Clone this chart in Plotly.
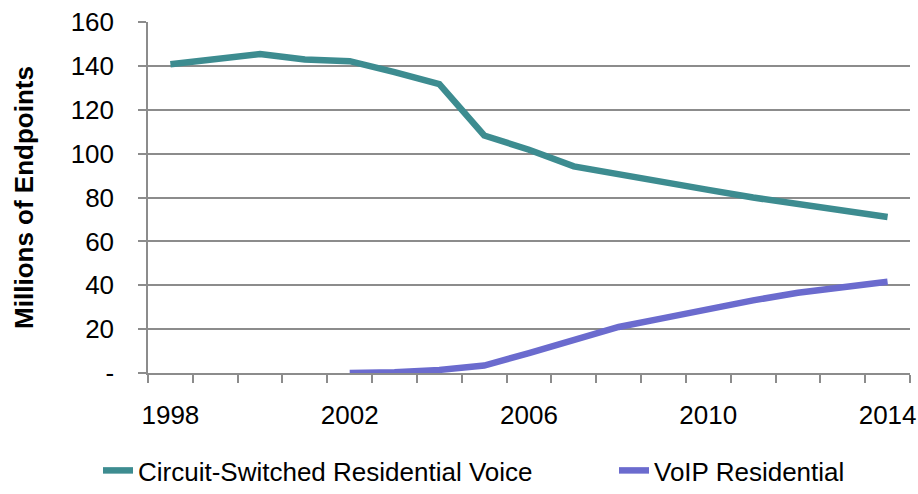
import plotly.graph_objects as go

years = list(range(1998, 2015))
circuit = [140.8, 143.0, 145.4, 143.0, 142.2, 137.2, 131.7, 108.3, 101.8, 94.2,
           90.4, 86.9, 83.5, 80.0, 77.2, 74.1, 71.1]
voip_years = list(range(2002, 2015))
voip = [0.0, 0.3, 1.4, 3.4, 9.1, 15.2, 21.0, 25.0, 29.2, 33.1, 36.6, 38.8, 41.6]
y_ticks = [0, 20, 40, 60, 80, 100, 120, 140, 160]
y_labels = ["-", "20", "40", "60", "80", "100", "120", "140", "160"]
x_label_years = [1998, 2002, 2006, 2010, 2014]

TEAL = "#3D8C90"
PURPLE = "#6B6BCE"
GRID = "#8C8C8C"
FONT = "Liberation Sans, Arial, sans-serif"

W, H = 918, 494

fig = go.Figure()
fig.add_trace(go.Scatter(x=years, y=circuit, mode="lines",
                         name="Circuit-Switched Residential Voice",
                         line=dict(color=TEAL, width=6.5), legend="legend"))
fig.add_trace(go.Scatter(x=voip_years, y=voip, mode="lines",
                         name="VoIP Residential",
                         line=dict(color=PURPLE, width=6.5), legend="legend2"))

boundaries = [y - 0.5 for y in years] + [years[-1] + 0.5]

leg_common = dict(orientation="h", xref="container", yref="container",
                  xanchor="left", yanchor="bottom", y=-5 / H,
                  font=dict(size=26), bgcolor="rgba(0,0,0,0)", itemwidth=30)

fig.update_layout(
    width=W, height=H,
    margin=dict(l=148, r=8, t=22, b=121, autoexpand=False),
    paper_bgcolor="white", plot_bgcolor="white",
    font=dict(family=FONT, size=26, color="black"),
    showlegend=True,
    legend=dict(x=98 / W, **leg_common),
    legend2=dict(x=614 / W, **leg_common),
    xaxis=dict(range=[1997.5, 2014.5], tickvals=x_label_years,
               ticktext=[str(v) for v in x_label_years],
               ticks="", showgrid=False, showline=True, linecolor=GRID, linewidth=1.5,
               ticklabelstandoff=18, zeroline=False, automargin=False,
               ticklabeloverflow="allow",
               minor=dict(tickvals=boundaries, ticks="outside", ticklen=8,
                          tickcolor=GRID, tickwidth=1.5, showgrid=False)),
    yaxis=dict(range=[0, 160.05], tickvals=y_ticks, ticktext=y_labels,
               ticks="outside", ticklen=8, tickcolor=GRID, tickwidth=1.5,
               showgrid=True, gridcolor=GRID, gridwidth=1.5,
               showline=True, linecolor=GRID, linewidth=1.5, zeroline=False,
               ticklabelstandoff=19, automargin=False,
               title=dict(text="<b>Millions of Endpoints</b>", standoff=30,
                          font=dict(size=26))),
)

fig.write_html("out.html", config={"displayModeBar": False},
               post_script="document.body.style.margin='0';"
                           "document.body.style.overflow='hidden';")
